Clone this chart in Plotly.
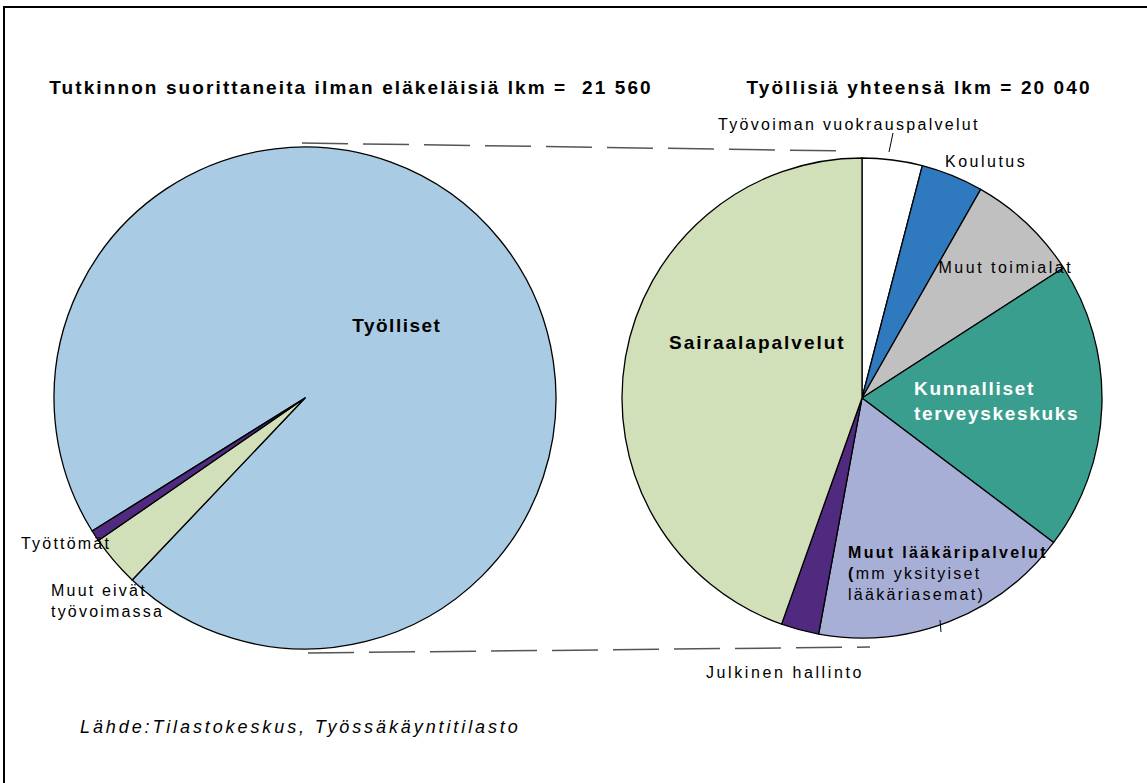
import json
import plotly.graph_objects as go

W, H = 1147, 783

# ---- data ----
left_labels = ["Työlliset", "Muut eivät työvoimassa", "Työttömät"]
left_values = [20040, 690, 150]
left_colors = ["#A9CCE4", "#D2E0B9", "#4F2A7E"]

right_labels = ["Työvoiman vuokrauspalvelut", "Koulutus", "Muut toimialat",
                "Kunnalliset terveyskeskukset", "Muut lääkäripalvelut",
                "Julkinen hallinto", "Sairaalapalvelut"]
right_values = [810, 840, 1530, 3890, 3530, 510, 8930]
right_colors = ["#FFFFFF", "#2F7ABF", "#C0C0C0", "#3A9E8E", "#A8AFD6", "#4F2A7E", "#D2E0B9"]

left_title = "Tutkinnon suorittaneita ilman eläkeläisiä lkm =  21 560"
right_title = "Työllisiä yhteensä lkm = 20 040"
source = "Lähde:Tilastokeskus, Työssäkäyntitilasto"

FONT = "Liberation Sans, Arial, sans-serif"


def px(x):
    return x / W


def py(y):
    return 1 - y / H


# pie geometry (pixels)
L_cx, L_cy, L_r = 305, 398, 251
R_cx, R_cy, R_r = 862, 398, 240


def dom(cx, cy, r):
    return dict(x=[px(cx - r), px(cx + r)], y=[py(cy + r), py(cy - r)])


fig = go.Figure()
fig.add_trace(go.Pie(
    labels=left_labels, values=left_values, sort=False, direction="clockwise",
    rotation=238, textinfo="none", hoverinfo="label+value+percent",
    marker=dict(colors=left_colors, line=dict(color="black", width=1.3)),
    domain=dom(L_cx, L_cy, L_r), showlegend=False,
))
fig.add_trace(go.Pie(
    labels=right_labels, values=right_values, sort=False, direction="clockwise",
    rotation=0, textinfo="none", hoverinfo="label+value+percent",
    marker=dict(colors=right_colors, line=dict(color="black", width=1.3)),
    domain=dom(R_cx, R_cy, R_r), showlegend=False,
))

ann = []
spacing = []


def add(text, x, y, size=16, xanchor="center", align="center", color="black", ls=2.3):
    ann.append(dict(text=text, x=px(x), y=py(y), xref="paper", yref="paper",
                    xanchor=xanchor, yanchor="middle", align=align, showarrow=False,
                    font=dict(family=FONT, size=size, color=color)))
    spacing.append(ls)


add("<b>" + left_title + "</b>", 351, 88, size=19, ls=2.1)
add("<b>" + right_title + "</b>", 919, 88, size=19, ls=2.1)
add("<b>Työlliset</b>", 397, 325, size=19, ls=1.5)
add("Työttömät", 19, 543, xanchor="left", align="left", ls=2.2)
add("Muut eivät<br>työvoimassa", 49, 601, xanchor="left", align="left", ls=2.2)
add("Työvoiman vuokrauspalvelut", 849, 124, ls=2.3)
add("Koulutus", 986, 161, ls=2.5)
add("Muut toimialat", 1006, 268, ls=2.5)
add("<b>Sairaalapalvelut</b>", 757, 342, size=19, ls=2.0)
add("<b>Kunnalliset<br>terveyskeskuks</b>", 912, 401, size=19, xanchor="left", align="left",
    color="white", ls=1.7)
add("<b>Muut lääkäripalvelut</b><br><b>(</b>mm yksityiset<br>lääkäriasemat)", 846, 573,
    xanchor="left", align="left", ls=2.3)
add("Julkinen hallinto", 785, 672, ls=2.6)
add("<i>" + source + "</i>", 78, 727, size=18, xanchor="left", align="left", ls=2.9)

shapes = [
    # outer frame
    dict(type="rect", xref="paper", yref="paper", x0=px(4), y0=py(7), x1=px(1170), y1=py(810),
         line=dict(color="black", width=2), fillcolor="rgba(0,0,0,0)"),
    # dashed connectors between the pies
    dict(type="line", xref="paper", yref="paper", x0=px(L_cx - 3), y0=py(L_cy - L_r - 4),
         x1=px(R_cx - 15), y1=py(R_cy - R_r - 7),
         line=dict(color="#555555", width=1.5, dash="46px,15px")),
    dict(type="line", xref="paper", yref="paper", x0=px(L_cx + 3), y0=py(L_cy + L_r + 4),
         x1=px(R_cx + 8), y1=py(R_cy + R_r + 9),
         line=dict(color="#555555", width=1.5, dash="46px,15px")),
    # leader lines
    dict(type="line", xref="paper", yref="paper", x0=px(893), y0=py(133), x1=px(889), y1=py(152),
         line=dict(color="black", width=1)),
    dict(type="line", xref="paper", yref="paper", x0=px(940), y0=py(620), x1=px(941), y1=py(632),
         line=dict(color="black", width=1)),
]

fig.update_layout(
    width=W, height=H, margin=dict(l=0, r=0, t=0, b=0),
    paper_bgcolor="white", plot_bgcolor="white",
    annotations=ann, shapes=shapes,
    font=dict(family=FONT, color="black"),
)

post = (
    "document.body.style.margin='0';"
    "var sp=" + json.dumps(spacing) + ";"
    "document.querySelectorAll('g.annotation').forEach(function(g){"
    "var i=+g.getAttribute('data-index');"
    "var t=g.querySelector('text.annotation-text');"
    "if(t&&sp[i]!==undefined){t.style.letterSpacing=sp[i]+'px';}"
    "});"
)

fig.write_html("out.html", post_script=post, config={"displayModeBar": False})
